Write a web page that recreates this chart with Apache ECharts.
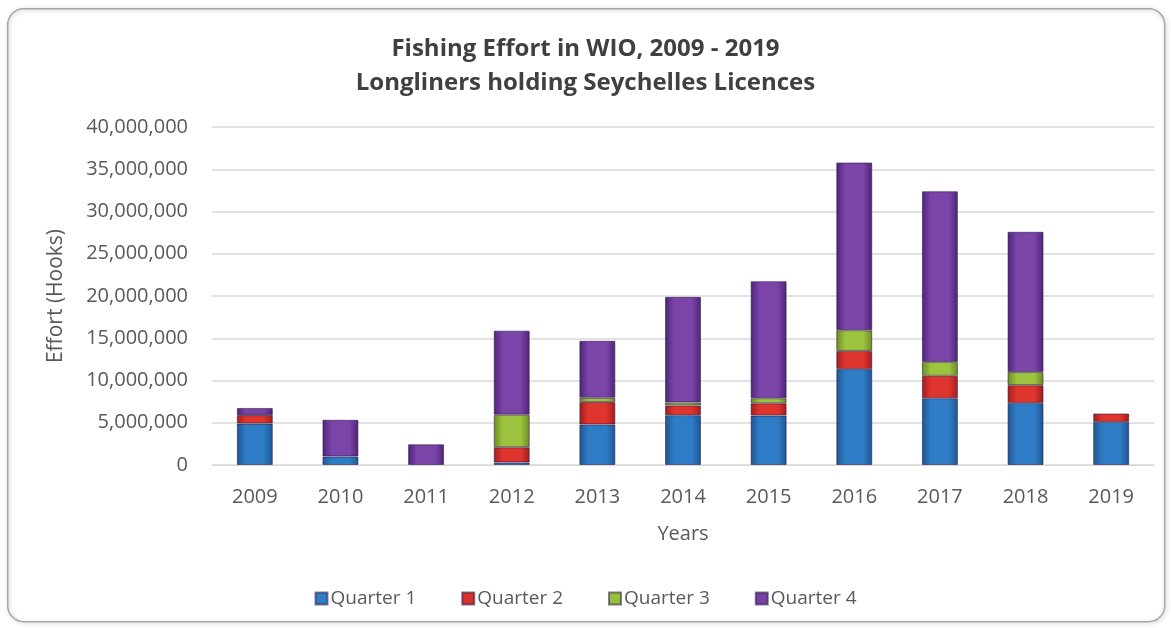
<!DOCTYPE html>
<html>
<head>
<meta charset="utf-8">
<script src="https://cdn.jsdelivr.net/npm/echarts@6/dist/echarts.min.js"></script>
<style>
html,body{margin:0;padding:0;background:#fff;}
#chart{width:1171px;height:628px;}
</style>
</head>
<body>
<div id="chart"></div>
<script>
const years = ['2009','2010','2011','2012','2013','2014','2015','2016','2017','2018','2019'];
const quarter1 = [4900000, 1000000, 0, 300000, 4800000, 5900000, 5850000, 11350000, 7900000, 7350000, 5100000];
const quarter2 = [1000000, 0, 0, 1800000, 2650000, 1150000, 1450000, 2150000, 2650000, 2100000, 1000000];
const quarter3 = [50000, 0, 0, 3850000, 500000, 350000, 600000, 2450000, 1650000, 1550000, 0];
const quarter4 = [800000, 4350000, 2450000, 9950000, 6750000, 12500000, 13850000, 19850000, 20200000, 16600000, 0];
const seriesNames = ['Quarter 1','Quarter 2','Quarter 3','Quarter 4'];

const FONT = 'Open Sans';
function grad(edge, mid) {
  return new echarts.graphic.LinearGradient(0,0,1,0,[
    {offset:0,color:edge},{offset:0.25,color:mid},{offset:0.75,color:mid},{offset:1,color:edge}
  ]);
}
const colors = [
  {edge:'#1d5590', mid:'#2f7cc6', flat:'#2f7cc6'},
  {edge:'#a01e1e', mid:'#e0342e', flat:'#d8302b'},
  {edge:'#6a8c22', mid:'#9cc43e', flat:'#98bf3c'},
  {edge:'#4e2478', mid:'#7a44a8', flat:'#7442a2'}
];
const data = [quarter1, quarter2, quarter3, quarter4];

const chart = echarts.init(document.getElementById('chart'));
chart.setOption({
  animation:false,
  backgroundColor:'#fff',
  graphic:[{
    type:'rect', left:7, top:8,
    shape:{width:1157, height:613, r:16},
    style:{fill:'rgba(0,0,0,0)', stroke:'#a6a6a6', lineWidth:1.5,
      shadowBlur:4, shadowColor:'rgba(0,0,0,0.25)', shadowOffsetX:1, shadowOffsetY:1},
    z:-1
  }],
  title:{
    text:'Fishing Effort in WIO, 2009 - 2019\nLongliners holding Seychelles Licences',
    left:'center', top:27,
    textStyle:{fontFamily:FONT, fontSize:24, fontWeight:'bold', color:'#404040', lineHeight:34}
  },
  legend:{
    bottom:15, left:'center',
    itemWidth:12, itemHeight:12, itemGap:45,
    icon:'rect',
    textStyle:{fontFamily:FONT, fontSize:19, color:'#595959', padding:[0,0,0,-2]},
    data:seriesNames.map((n,i)=>({name:n, itemStyle:{color:colors[i].flat}}))
  },
  grid:{left:212, right:17, top:127, height:338, containLabel:false},
  xAxis:{
    type:'category', data:years,
    name:'Years', nameLocation:'middle', nameGap:59,
    nameTextStyle:{fontFamily:FONT, fontSize:20, color:'#595959'},
    axisLine:{lineStyle:{color:'#d9d9d9'}},
    axisTick:{show:false},
    axisLabel:{fontFamily:FONT, fontSize:20, color:'#595959', margin:22}
  },
  yAxis:{
    type:'value', min:0, max:40000000, interval:5000000,
    name:'Effort (Hooks)', nameLocation:'middle', nameGap:145, nameRotate:90,
    nameTextStyle:{fontFamily:FONT, fontSize:21, color:'#595959'},
    axisLine:{show:false}, axisTick:{show:false},
    splitLine:{lineStyle:{color:'#d9d9d9', width:1.5}},
    axisLabel:{fontFamily:FONT, fontSize:20, color:'#595959', margin:24,
      formatter:v=>v.toLocaleString('en-US')}
  },
  series:seriesNames.map((n,i)=>({
    name:n, type:'bar', stack:'total', barWidth:'42%',
    data:data[i].map(v=>v===0?null:v),
    itemStyle:{color:grad(colors[i].edge, colors[i].mid), borderColor:'rgba(40,20,60,0.55)', borderWidth:1}
  }))
});
</script>
</body>
</html>
